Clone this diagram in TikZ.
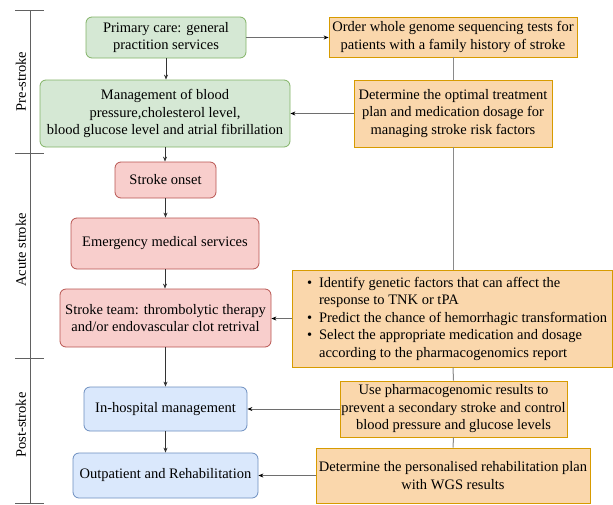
\documentclass[tikz,border=0pt]{standalone}
\usepackage{fontspec}
\setmainfont{Liberation Serif}
\usetikzlibrary{arrows.meta}
\definecolor{gfill}{HTML}{D5E8D4}\definecolor{gdraw}{HTML}{82B366}
\definecolor{rfill}{HTML}{F8CECC}\definecolor{rdraw}{HTML}{B85450}
\definecolor{bfill}{HTML}{DAE8FC}\definecolor{bdraw}{HTML}{6C8EBF}
\definecolor{ofill}{HTML}{FAD7AC}\definecolor{odraw}{HTML}{D79B00}
\definecolor{lgray}{HTML}{8A8A8A}\definecolor{dgray}{HTML}{333333}
\begin{document}
\begin{tikzpicture}[x=1pt,y=-1pt,
  every node/.style={font=\fontsize{14.5}{17.5}\selectfont, align=center, inner sep=0pt},
  box/.style={minimum width=#1, line width=0.8pt},
  gbox/.style={box=#1, rounded corners=6pt, fill=gfill, draw=gdraw},
  rbox/.style={box=#1, rounded corners=6pt, fill=rfill, draw=rdraw},
  bbox/.style={box=#1, rounded corners=6pt, fill=bfill, draw=bdraw},
  obox/.style={box=#1, fill=ofill, draw=odraw},
  flow/.style={draw=dgray, line width=0.7pt, -{Stealth[length=5pt,width=4pt]}},
  side/.style={draw=lgray!80!black, line width=0.8pt, arrows={-{Stealth[length=5pt,width=4pt,color=black]}}},
  spine/.style={draw=lgray, line width=1pt},
  axis/.style={draw=lgray!70!black, line width=1pt},
  phase/.style={rotate=90, font=\fontsize{14.5}{16}\selectfont}]
\useasboundingbox (0,0) rectangle (613,504);
% axis
\coordinate (ax0) at (30,10);
\coordinate (ax3) at (30,503);
\draw[axis] (ax0) -- (ax3);
\foreach \yy in {10,153,358,503} \draw[axis] (15,\yy) -- (44,\yy);
\node[phase] (p1) at (21,81.5) {Pre-stroke};
\node[phase] (p2) at (21,250) {Acute stroke};
\node[phase] (p3) at (21,425) {Post-stroke};
% left column
\node[gbox=160pt, minimum height=41pt] (g1) at (166,37.5) {Primary care: general\\practition services};
\node[gbox=250pt, minimum height=67pt] (g2) at (165,113.5) {Management of blood\\pressure,cholesterol level,\\blood glucose level and atrial fibrillation};
\node[rbox=101pt, minimum height=36pt] (r1) at (165.5,180) {Stroke onset};
\node[rbox=188pt, minimum height=51pt] (r2) at (165,243.5) {Emergency medical services};
\node[rbox=211pt, minimum height=58pt] (r3) at (165.5,318) {Stroke team: thrombolytic therapy\\and/or endovascular clot retrival};
\node[bbox=163pt, minimum height=44pt] (b1) at (165.5,409) {In-hospital management};
\node[bbox=185pt, minimum height=45pt] (b2) at (165.5,475.5) {Outpatient and Rehabilitation};
% right column
\node[obox=248pt, minimum height=40pt] (o1) at (453,37) {Order whole genome sequencing tests for\\patients with a family history of stroke};
\node[obox=198pt, minimum height=67pt] (o2) at (453,113.5) {Determine the optimal treatment\\plan and medication dosage for\\managing stroke risk factors};
\node[obox=320pt, minimum height=97pt] (o3) at (452,318.5) {\hspace*{10pt}\begin{tabular}{@{}l@{\hspace{7pt}}l@{}}
\textbullet & Identify genetic factors that can affect the\\
 & response to TNK or tPA\\
\textbullet & Predict the chance of hemorrhagic transformation\\
\textbullet & Select the appropriate medication and dosage\\
 & according to the pharmacogenomics report
\end{tabular}};
\node[obox=227pt, minimum height=56pt] (o4) at (453.5,409) {Use pharmacogenomic results to\\prevent a secondary stroke and control\\blood pressure and glucose levels};
\node[obox=274pt, minimum height=55pt] (o5) at (453,475.5) {Determine the personalised rehabilitation plan\\with WGS results};
% spine through orange boxes
\draw[spine] (o1.south) -- (o2.north);
\draw[spine] (o2.south) -- (o2.south |- o3.north);
\draw[spine] (o2.south |- o3.south) -- (o4.north);
\draw[spine] (o4.south) -- (o5.north);
% flow arrows
\draw[flow] (g1.south) -- (g1.south |- g2.north);
\draw[flow] (g2.south) -- (g2.south |- r1.north);
\draw[flow] (r1.south) -- (r1.south |- r2.north);
\draw[flow] (r2.south) -- (r2.south |- r3.north);
\draw[flow] (r3.south) -- (r3.south |- b1.north);
\draw[flow] (b1.south) -- (b1.south |- b2.north);
% side arrows
\draw[side] (g1.east) -- (g1.east -| o1.west);
\draw[side] (o2.west) -- (o2.west -| g2.east);
\draw[side] (o3.west) -- (o3.west -| r3.east);
\draw[side] (o4.west) -- (b1.east);
\draw[side] (o5.west) -- (b2.east);
\end{tikzpicture}
\end{document}
